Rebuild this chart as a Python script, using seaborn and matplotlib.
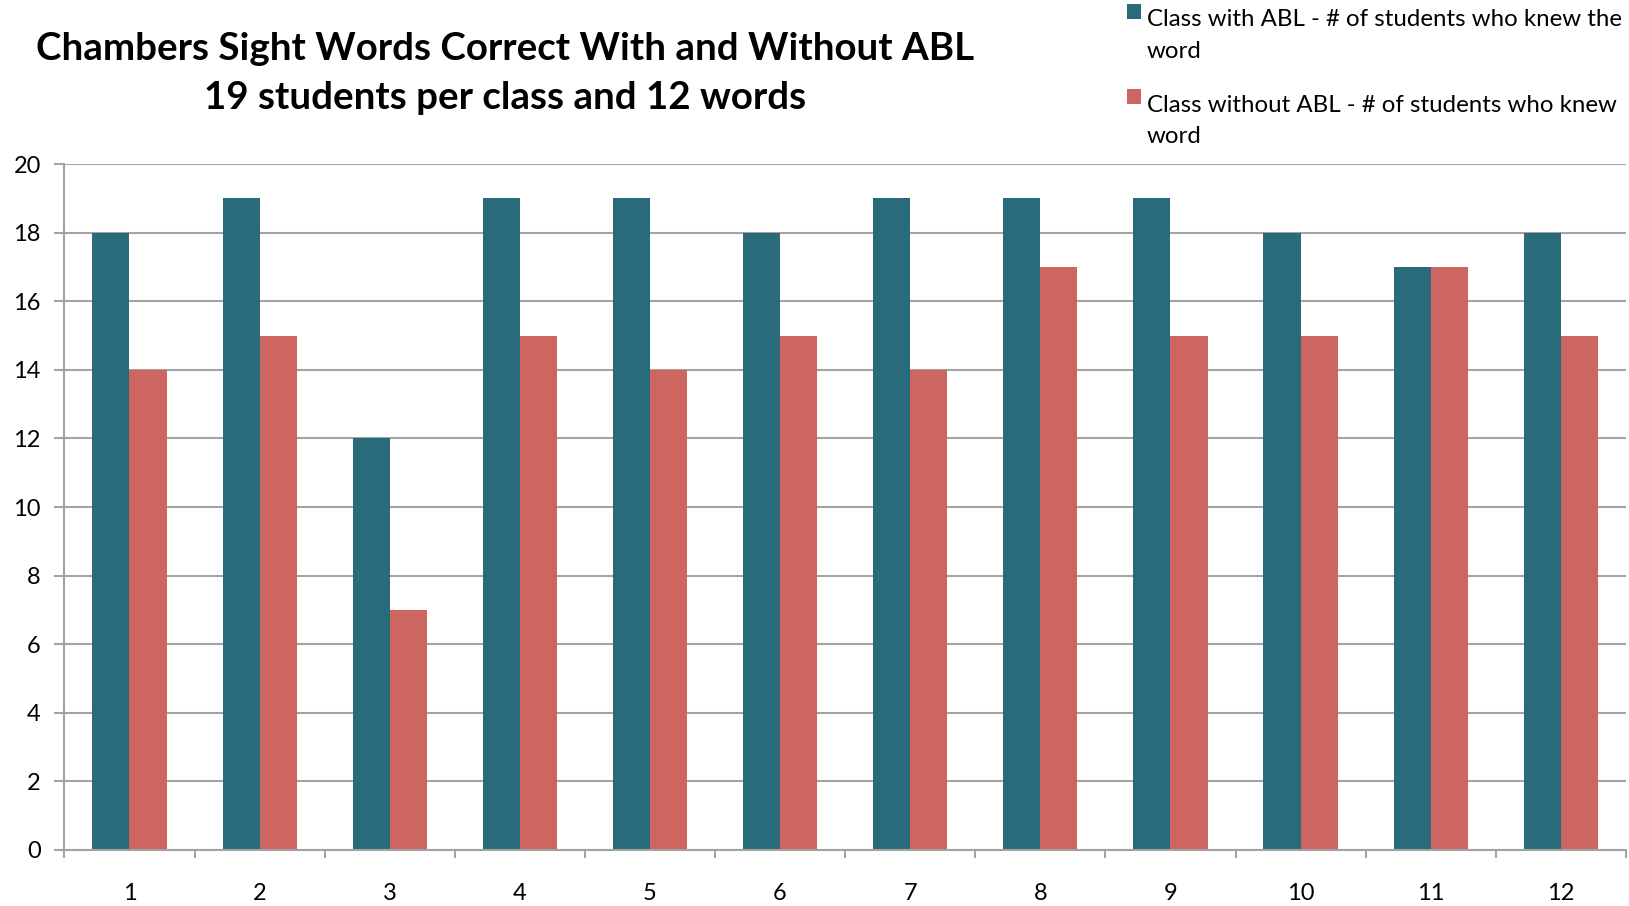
import matplotlib
matplotlib.use("Agg")
import matplotlib.pyplot as plt
import seaborn as sns
import pandas as pd
import numpy as np

words = [str(i) for i in range(1, 13)]
with_abl = [18, 19, 12, 19, 19, 18, 19, 19, 19, 18, 17, 18]
without_abl = [14, 15, 7, 15, 14, 15, 14, 17, 15, 15, 17, 15]
series_names = ["Class with ABL - # of students who knew the\nword",
                "Class without ABL - # of students who knew\nword"]
colors = ["#2A6B7B", "#CD6660"]
title = "Chambers Sight Words Correct With and Without ABL\n19 students per class and 12 words"

df = pd.DataFrame({
    "word": words * 2,
    "value": with_abl + without_abl,
    "series": [series_names[0]] * 12 + [series_names[1]] * 12,
})

sns.set_theme(style="white")
plt.rcParams['font.family'] = ['Lato', 'DejaVu Sans']

W, H = 1568.0, 872.0  # reference layout units
fig = plt.figure(figsize=(16.29, 9.06), dpi=100)
ax = fig.add_axes([62/W, 1 - 818/H, (1565-62)/W, (818-158)/H])

sns.barplot(data=df, x="word", y="value", hue="series", order=words,
            hue_order=series_names, palette=colors, width=0.57,
            saturation=1, ax=ax, legend=True, edgecolor="none", linewidth=0)

gray = "#A3A3A3"
ax.set_xlim(-0.5, 11.5)
ax.set_ylim(0, 20)
ax.set_yticks(np.arange(0, 21, 2))
ax.yaxis.grid(True, color=gray, linewidth=1.5)
ax.set_axisbelow(True)
for s in ["top", "right"]:
    ax.spines[s].set_visible(False)
for s in ["left", "bottom"]:
    ax.spines[s].set_color(gray)
    ax.spines[s].set_linewidth(1.5)
ax.set_xlabel("")
ax.set_ylabel("")
ax.tick_params(axis="y", which="major", left=True, length=7, width=1.5,
               color=gray, labelsize=17, pad=10, labelcolor="black")
ax.tick_params(axis="x", which="major", bottom=False, labelsize=17, pad=18,
               labelcolor="black")
ax.set_xticks(np.arange(-0.5, 12, 1), minor=True)
ax.tick_params(axis="x", which="minor", bottom=True, length=6, width=1.5,
               color=gray)

handles, labels = ax.get_legend_handles_labels()
ax.get_legend().remove()
leg_fs = 17.3
leg = fig.legend(handles, labels, loc="upper left",
                 bbox_to_anchor=(1085/W, 1 - 9/H),
                 frameon=False, fontsize=leg_fs, handlelength=0.57,
                 handleheight=0.57, handletextpad=0.25, labelspacing=1.38,
                 borderpad=0, borderaxespad=0)
for t in leg.get_texts():
    t.set_linespacing(1.6)
    t.set_color("black")
# align the colour square with the first line of each label
for h in leg.legend_handles:
    h.set_y(h.get_y() + 17.5)

fig.text(486/W, 1 - 70.5/H, title, ha="center", va="center",
         fontsize=27.7, fontweight="bold", linespacing=1.52, color="black")

fig.savefig("out.png", dpi=100, facecolor="white")
